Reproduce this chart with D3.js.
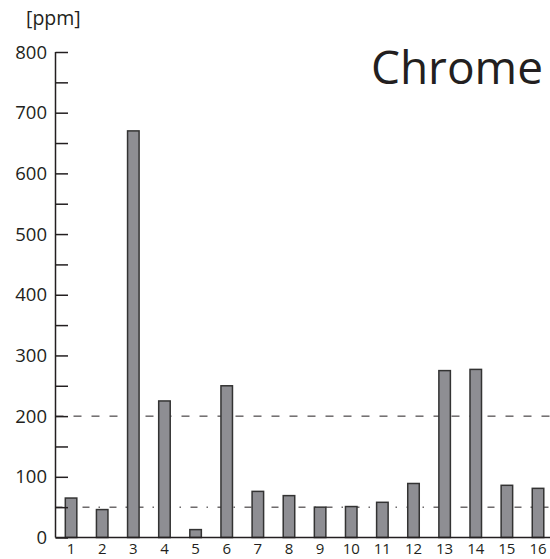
<!doctype html>
<html lang="en">
  <head>
    <meta charset="utf-8" />
    <title>Chrome</title>
    <style>
      body { margin: 0; background: #fff; }
      text { font-family: "Open Sans", "Noto Sans", sans-serif; fill: #231f20; }
    </style>
  </head>
  <body>
    <div id="my_dataviz"></div>
    <script src="https://cdnjs.cloudflare.com/ajax/libs/d3/7.8.5/d3.min.js"></script>
    <script>
// data
var samples = ["1","2","3","4","5","6","7","8","9","10","11","12","13","14","15","16"];
var ppm = [65, 46, 670, 225, 13, 250, 76, 69, 50, 51, 58, 89, 275, 277, 86, 81];
var yTicks = [0, 100, 200, 300, 400, 500, 600, 700, 800];
var limits = [200, 50];   // dashed and dash-dot reference lines

var width = 550, height = 559;
var margin = {top: 52, right: 0, bottom: 21.5, left: 55.5};

var svg = d3.select("#my_dataviz")
  .append("svg")
    .attr("width", width)
    .attr("height", height);

// X scale
var x = d3.scaleBand()
    .domain(samples)
    .range([margin.left, margin.left + 16 * 31.13])
    .paddingInner(0.63)
    .paddingOuter(0.315);

// Y scale
var y = d3.scaleLinear()
    .domain([0, 800])
    .range([height - margin.bottom, margin.top]);

// reference lines (drawn under the bars)
svg.append("line")
    .attr("x1", margin.left).attr("x2", width)
    .attr("y1", y(limits[0])).attr("y2", y(limits[0]))
    .attr("stroke", "#231f20").attr("stroke-width", 1)
    .attr("stroke-dasharray", "8,10");

svg.append("line")
    .attr("x1", margin.left).attr("x2", width)
    .attr("y1", y(limits[1])).attr("y2", y(limits[1]))
    .attr("stroke", "#231f20").attr("stroke-width", 1)
    .attr("stroke-dasharray", "7,9,1.5,9.5");

// bars
svg.append("g")
  .selectAll("rect")
  .data(ppm)
  .enter()
  .append("rect")
    .attr("x", function(d, i) { return x(samples[i]); })
    .attr("y", function(d) { return y(d); })
    .attr("width", x.bandwidth())
    .attr("height", function(d) { return y(0) - y(d); })
    .attr("fill", "#8e8e93")
    .attr("stroke", "#333")
    .attr("stroke-width", 1.5);

// y axis, ticks pointing inward, minor ticks at the 50s
var yAxis = svg.append("g")
    .attr("transform", "translate(" + margin.left + ",0)")
    .call(d3.axisRight(y).tickValues(d3.range(0, 801, 50)).tickSize(12.5).tickFormat(""));
yAxis.select(".domain").attr("stroke", "#231f20").attr("stroke-width", 1.5).attr("d", "M0," + y(0) + "V" + y(800));
yAxis.selectAll(".tick line").attr("stroke", "#231f20").attr("stroke-width", 1.5);

svg.append("g")
  .selectAll("text")
  .data(yTicks)
  .enter()
  .append("text")
    .attr("x", 47)
    .attr("y", function(d) { return y(d); })
    .attr("dy", "0.36em")
    .attr("text-anchor", "end")
    .style("font-size", "18.5px")
    .text(function(d) { return d; });

// x axis baseline
svg.append("line")
    .attr("x1", margin.left).attr("x2", width)
    .attr("y1", y(0)).attr("y2", y(0))
    .attr("stroke", "#231f20").attr("stroke-width", 1.5);

svg.append("g")
  .selectAll("text")
  .data(samples)
  .enter()
  .append("text")
    .attr("x", function(d) { return x(d) + x.bandwidth() / 2; })
    .attr("y", 554)
    .attr("text-anchor", "middle")
    .style("font-size", "15px")
    .text(function(d) { return d; });

// unit label
svg.append("text")
    .attr("x", 26)
    .attr("y", 25)
    .style("font-size", "19.5px")
    .text("[ppm]");

// title
svg.append("text")
    .attr("x", 543)
    .attr("y", 84)
    .attr("text-anchor", "end")
    .style("font-size", "46px")
    .text("Chrome");
    </script>
  </body>
</html>
